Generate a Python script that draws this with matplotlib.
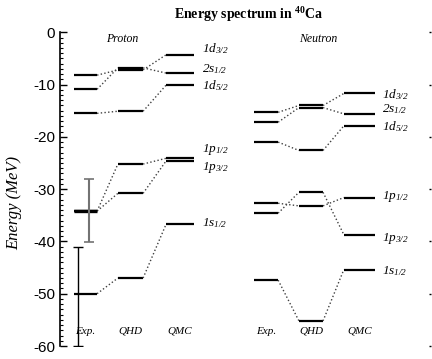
import matplotlib
matplotlib.use("Agg")
import matplotlib.pyplot as plt
from matplotlib.ticker import MultipleLocator

plt.rcParams['axes.unicode_minus'] = False
plt.rcParams['mathtext.fontset'] = 'custom'
plt.rcParams['mathtext.rm'] = 'Liberation Serif:italic'
plt.rcParams['mathtext.it'] = 'Liberation Serif:italic'
plt.rcParams['mathtext.bf'] = 'Liberation Serif:bold'

# level names (same order for proton and neutron)
levels = ["1d3/2", "2s1/2", "1d5/2", "1p1/2", "1p3/2", "1s1/2"]
level_tex = [r"$1d_{3/2}$", r"$2s_{1/2}$", r"$1d_{5/2}$",
             r"$1p_{1/2}$", r"$1p_{3/2}$", r"$1s_{1/2}$"]
methods = ["Exp.", "QHD", "QMC"]

# energies (MeV)
proton_exp = [-8.2, -10.9, -15.5, -34.2, -34.2, -50.0]
proton_qhd = [-7.2, -6.8, -15.1, -25.2, -30.8, -47.0]
proton_qmc = [-4.3, -7.8, -10.1, -24.1, -24.6, -36.7]

neutron_exp = [-15.3, -17.2, -21.0, -32.7, -34.6, -47.4]
neutron_qhd = [-14.0, -14.4, -22.6, -33.2, -30.6, -55.2]
neutron_qmc = [-11.7, -15.6, -17.9, -31.6, -38.7, -45.4]

# experimental error bars (proton 1p and 1s): lower, upper
proton_err_1p = [5.9, 6.1]
proton_err_1s = [10.0, 9.0]

# label positions on the right of each block
proton_label_y = [-3.2, -7.0, -10.2, -22.5, -25.9, -36.5]
neutron_label_y = [-11.9, -14.6, -18.0, -31.5, -39.4, -45.6]

# column spans in x
proton_cols = [(0.38, 1.00), (1.56, 2.24), (2.86, 3.61)]
neutron_cols = [(5.23, 5.88), (6.44, 7.09), (7.65, 8.49)]

fig = plt.figure(figsize=(4.32, 3.59), dpi=100)
ax = fig.add_axes([60 / 432, 13 / 359, 371 / 432, 313.7 / 359])


def draw_block(cols, data, label_y, label_x, title, title_x):
    for j in range(len(levels)):
        vals = [d[j] for d in data]
        for k, (x0, x1) in enumerate(cols):
            ax.plot([x0, x1], [vals[k], vals[k]], color='black', lw=1.6, solid_capstyle='butt')
            if k < len(cols) - 1:
                ax.plot([x1, cols[k + 1][0]], [vals[k], vals[k + 1]], ls=':', color='0.25', lw=1.0)
        ax.text(label_x, label_y[j], level_tex[j], fontsize=9.5, va='center', ha='left')
    for k, (x0, x1) in enumerate(cols):
        ax.text((x0 + x1) / 2, -57.2, methods[k], fontsize=8, ha='center', va='center',
                family='Liberation Serif', style='italic')
    ax.text(title_x, -1.3, title, fontsize=8.5, ha='center', va='center',
            family='Liberation Serif', style='italic')


draw_block(proton_cols, [proton_exp, proton_qhd, proton_qmc], proton_label_y, 3.82, "Proton", 1.68)
draw_block(neutron_cols, [neutron_exp, neutron_qhd, neutron_qmc], neutron_label_y, 8.68, "Neutron", 6.95)

# thicker exp 1p line
ax.plot(list(proton_cols[0]), [proton_exp[3], proton_exp[3]], color='black', lw=2.4, solid_capstyle='butt')

# error bars
ax.errorbar([0.78], [proton_exp[3]], yerr=[[proton_err_1p[0]], [proton_err_1p[1]]], fmt='none',
            ecolor='0.45', elinewidth=1.5, capsize=3.5, capthick=1.2)
ax.errorbar([0.49], [proton_exp[5]], yerr=[[proton_err_1s[0]], [proton_err_1s[1]]], fmt='none',
            ecolor='black', elinewidth=1.0, capsize=3.5, capthick=1.0)

ax.set_xlim(0, 10)
ax.set_ylim(-60, 0)
ax.set_xticks([])
ax.yaxis.set_major_locator(MultipleLocator(10))
ax.yaxis.set_minor_locator(MultipleLocator(1))
for s in ['top', 'bottom', 'right']:
    ax.spines[s].set_visible(False)
ax.spines['left'].set_linewidth(1.2)
ax.tick_params(axis='y', which='major', direction='in', length=5, width=1, labelsize=11)
ax.tick_params(axis='y', which='minor', direction='in', length=2.5, width=0.8)
for lab in ax.get_yticklabels():
    lab.set_family('Liberation Sans')

# tiny marks on the right edge
ax.yaxis.set_ticks_position('both')
for t in ax.yaxis.get_major_ticks():
    t.tick2line.set_markersize(1.5)
    t.tick2line.set_color('0.5')
for t in ax.yaxis.get_minor_ticks():
    t.tick2line.set_visible(False)

ax.set_ylabel("Energy (MeV)", fontsize=12, family='Liberation Serif', style='italic')
ax.yaxis.set_label_coords(-0.103, 0.455)

fig.text(0.577, 0.96, r"Energy spectrum in $\mathbf{^{40}}$Ca", fontsize=10, fontweight='bold',
         family='Liberation Serif', ha='center', va='center')

fig.savefig("out.png", dpi=100)
